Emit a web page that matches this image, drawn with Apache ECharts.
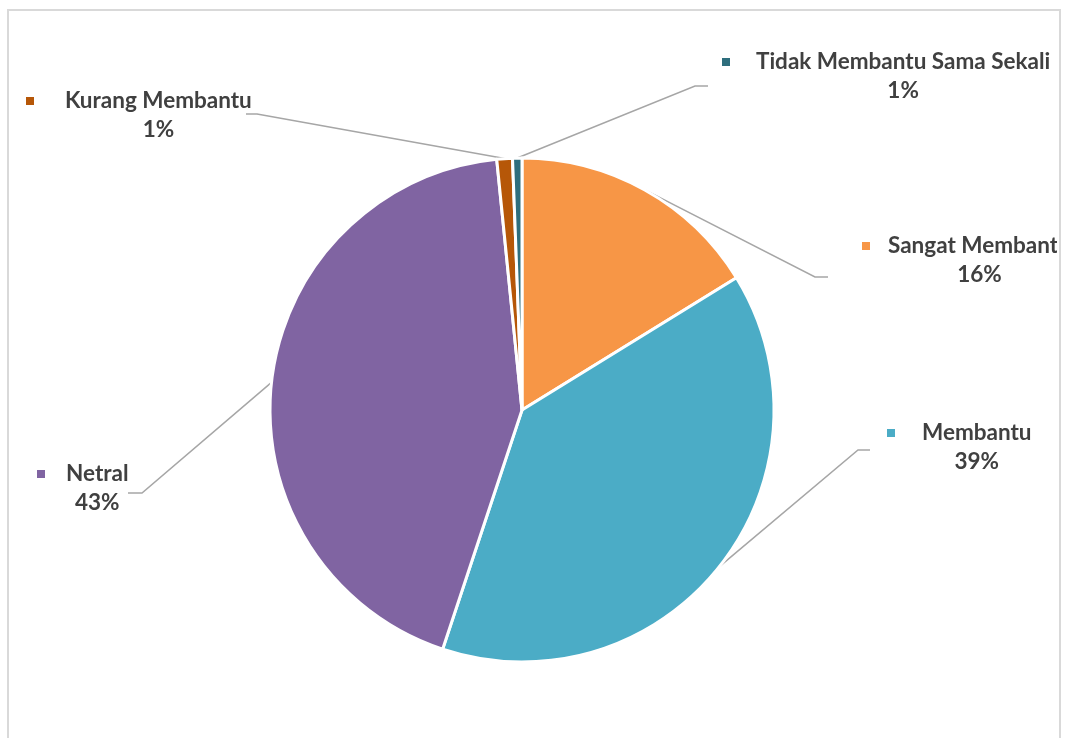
<!DOCTYPE html>
<html>
<head>
<meta charset="utf-8">
<script src="https://cdn.jsdelivr.net/npm/echarts@6/dist/echarts.min.js"></script>
<style>
  html, body { margin: 0; padding: 0; background: #fff; width: 1066px; height: 738px; overflow: hidden; }
  #chart { position: absolute; left: 0; top: 0; width: 1057px; height: 738px; }
  #frame { position: absolute; left: 7px; top: 9px; width: 1054px; height: 800px;
           border: 2px solid #d9d9d9; box-sizing: border-box; pointer-events: none; }
</style>
</head>
<body>
<div id="chart"></div>
<div id="frame"></div>
<script>
// Survey answers, clockwise from 12 o'clock
const categories = ['Sangat Membantu', 'Membantu', 'Netral', 'Kurang Membantu', 'Tidak Membantu Sama Sekali'];
const shares = [16.2, 38.9, 43.3, 1.0, 0.6];
const colors = ['#F79646', '#4BACC6', '#8064A2', '#B65708', '#2E6E7D'];

// Where each label sits (marker left edge, middle of the name line),
// the gap between marker and name, and the leader line's elbow and end.
const labelSpots = [
  { x: 862, y: 246, gap: 18, elbow: [815, 277], end: [828, 277] },
  { x: 887, y: 433, gap: 27, elbow: [858, 450], end: [870, 450] },
  { x: 37,  y: 474, gap: 21, elbow: [142, 493], end: [128, 493] },
  { x: 26,  y: 101, gap: 31, elbow: [257, 114], end: [246, 114] },
  { x: 722, y: 62,  gap: 26, elbow: [695, 86],  end: [708, 86] }
];

const FONT = 'Lato, "Liberation Sans", sans-serif';
const FONT_SIZE = 22.5;
const LINE_H = 29;
const MARK = 8;

const textStyle = { fontFamily: FONT, fontSize: FONT_SIZE, fontWeight: 'bold', color: '#404040', lineHeight: LINE_H };
const rich = {
  n: Object.assign({ align: 'left' }, textStyle),
  p: Object.assign({ align: 'center' }, textStyle)
};
colors.forEach(function (c, i) {
  rich['m' + i] = { width: MARK, height: MARK, backgroundColor: c, align: 'left', verticalAlign: 'middle' };
  rich['g' + i] = { width: labelSpots[i].gap, height: 1, align: 'left' };
  rich['s' + i] = { width: MARK + labelSpots[i].gap, height: 1, align: 'left' };
});

const data = categories.map(function (name, i) {
  return { name: name, value: shares[i], itemStyle: { color: colors[i] } };
});

const chart = echarts.init(document.getElementById('chart'), null, { renderer: 'canvas' });
chart.setOption({
  backgroundColor: '#fff',
  animation: false,
  series: [{
    type: 'pie',
    center: [522, 410],
    radius: 252,
    startAngle: 90,
    clockwise: true,
    silent: true,
    avoidLabelOverlap: false,
    itemStyle: { borderColor: '#fff', borderWidth: 3 },
    label: {
      show: true,
      position: 'outside',
      fontFamily: FONT,
      fontSize: FONT_SIZE,
      fontWeight: 'bold',
      color: '#404040',
      formatter: function (p) {
        const i = p.dataIndex;
        return '{m' + i + '|}{g' + i + '|}{n|' + p.name + '}\n{s' + i + '|}{p|' + Math.round(p.percent) + '%}';
      },
      rich: rich
    },
    labelLine: { show: true, length: 10, length2: 10, lineStyle: { color: '#a6a6a6', width: 1.5 } },
    labelLayout: function (params) {
      const s = labelSpots[params.dataIndex];
      const out = { x: s.x, y: s.y - LINE_H / 2, align: 'left', verticalAlign: 'top' };
      if (params.labelLinePoints && params.labelLinePoints.length) {
        out.labelLinePoints = [params.labelLinePoints[0], s.elbow, s.end];
      }
      return out;
    },
    data: data
  }]
});
</script>
</body>
</html>
